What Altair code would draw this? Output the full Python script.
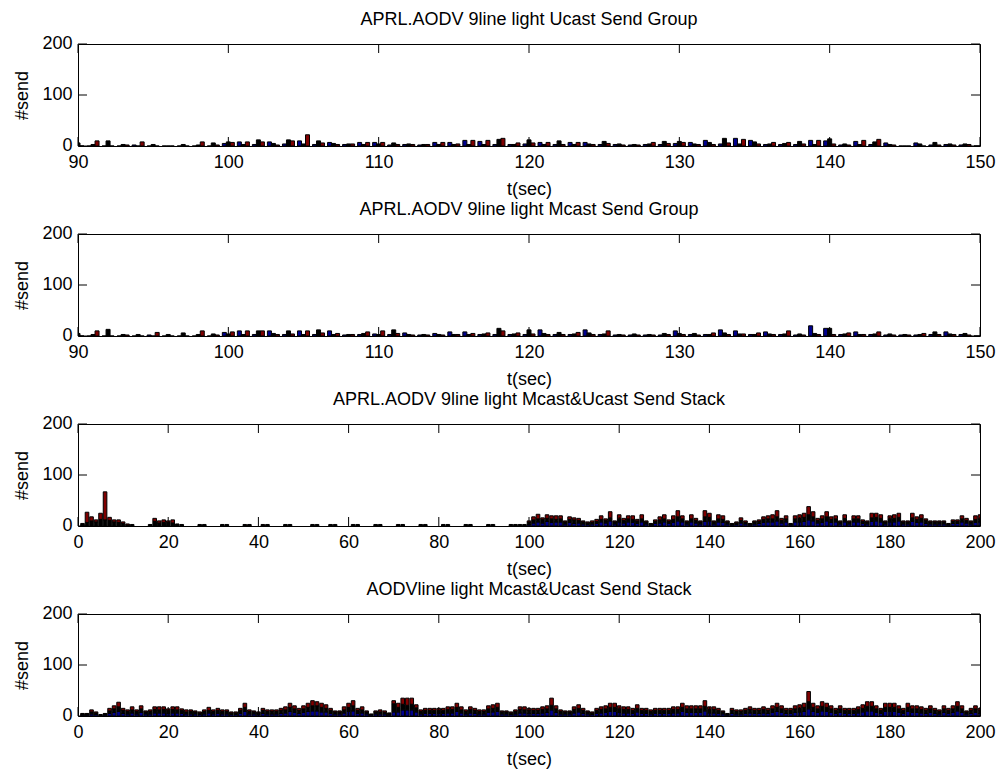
import altair as alt
import pandas as pd

FONT = "Liberation Sans"
BLUE, BLACK, RED = "#00008F", "#000000", "#800000"
SERIES = ["blue", "black", "red"]

# ---------------- titles / ticks ----------------
titles = [
    "APRL.AODV 9line light Ucast Send Group",
    "APRL.AODV 9line light Mcast Send Group",
    "APRL.AODV 9line light Mcast&Ucast Send Stack",
    "AODVline light Mcast&Ucast Send Stack",
]
xticks_group = [90, 100, 110, 120, 130, 140, 150]
xticks_stack = [0, 20, 40, 60, 80, 100, 120, 140, 160, 180, 200]
yticks = [0, 100, 200]

# ---------------- panel 1 (grouped, t = 90..150) ----------------
g_t = list(range(90, 151))
p1_blue = [0, 0, 0, 0, 2, 0, 0, 0, 0, 0,
           5, 8, 3, 8, 4, 10, 3, 7, 3, 7,
           7, 2, 3, 2, 7, 7, 11, 9, 3, 3,
           4, 7, 3, 7, 7, 3, 3, 2, 3, 3,
           5, 7, 11, 4, 15, 11, 3, 3, 3, 11,
           10, 2, 9, 3, 6, 0, 6, 2, 3, 2, 0]
p1_black = [6, 3, 10, 3, 0, 3, 0, 3, 2, 6,
            8, 3, 12, 5, 12, 4, 10, 5, 4, 3,
            4, 6, 4, 3, 3, 3, 3, 3, 13, 3,
            12, 3, 10, 3, 4, 9, 4, 3, 4, 9,
            9, 4, 7, 15, 4, 8, 4, 5, 9, 3,
            14, 4, 3, 8, 3, 0, 4, 7, 4, 4, 0]
p1_red = [0, 10, 0, 2, 8, 0, 0, 0, 8, 2,
          7, 8, 8, 2, 10, 22, 6, 3, 4, 7,
          7, 3, 3, 3, 7, 4, 11, 11, 15, 6,
          6, 7, 3, 7, 3, 5, 2, 2, 7, 5,
          7, 3, 3, 6, 13, 4, 7, 7, 4, 11,
          4, 2, 11, 13, 2, 0, 0, 2, 2, 3, 0]

# ---------------- panel 2 (grouped, t = 90..150) ----------------
p2_blue = [0, 0, 0, 0, 0, 2, 0, 0, 0, 0,
           7, 10, 3, 10, 3, 10, 3, 10, 2, 3,
           4, 3, 6, 2, 5, 8, 8, 3, 3, 3,
           3, 12, 3, 3, 12, 3, 2, 2, 2, 2,
           10, 3, 3, 12, 10, 3, 8, 3, 2, 20,
           15, 3, 8, 3, 2, 2, 2, 3, 8, 3, 0]
p2_black = [5, 3, 13, 3, 3, 0, 3, 6, 3, 4,
            4, 3, 10, 5, 10, 3, 12, 3, 3, 5,
            3, 12, 3, 3, 3, 3, 3, 4, 15, 4,
            12, 5, 7, 4, 6, 4, 3, 4, 3, 5,
            5, 5, 3, 6, 4, 3, 4, 4, 4, 5,
            15, 4, 3, 4, 4, 3, 3, 8, 4, 5, 0]
p2_red = [0, 10, 0, 2, 0, 7, 0, 0, 10, 2,
          8, 10, 10, 3, 4, 10, 6, 5, 3, 8,
          10, 5, 2, 2, 2, 3, 5, 6, 10, 6,
          4, 3, 3, 7, 3, 10, 2, 2, 2, 3,
          3, 2, 6, 3, 4, 6, 3, 10, 2, 3,
          3, 6, 3, 8, 2, 2, 5, 3, 3, 2, 0]

# ---------------- panel 3 (stacked, t = 1..200) ----------------
s_t = list(range(1, 201))
p3_total = [5, 27, 18, 12, 25, 67, 17, 12, 12, 8,
            4, 3, 0, 0, 0, 3, 15, 10, 12, 10,
            12, 4, 3, 0, 0, 0, 3, 3, 0, 0,
            0, 3, 3, 0, 0, 0, 3, 3, 0, 0,
            3, 3, 0, 0, 0, 3, 3, 0, 0, 0,
            0, 3, 3, 0, 0, 3, 3, 0, 0, 0,
            3, 3, 0, 0, 0, 3, 3, 0, 0, 0,
            3, 3, 0, 0, 0, 3, 3, 0, 0, 0,
            3, 3, 0, 0, 0, 3, 3, 0, 0, 0,
            3, 3, 0, 0, 0, 3, 3, 3, 3, 10,
            18, 23, 16, 22, 20, 20, 20, 10, 18, 16,
            15, 10, 8, 10, 13, 20, 14, 28, 10, 22,
            15, 20, 20, 13, 22, 10, 5, 12, 18, 22,
            12, 20, 30, 20, 10, 22, 15, 10, 30, 25,
            10, 22, 20, 10, 5, 8, 16, 10, 5, 10,
            12, 18, 20, 22, 30, 15, 20, 5, 20, 22,
            25, 38, 28, 15, 20, 28, 18, 20, 10, 22,
            10, 20, 20, 12, 10, 25, 25, 22, 10, 20,
            22, 25, 10, 10, 25, 18, 22, 14, 10, 10,
            10, 10, 5, 12, 12, 20, 15, 10, 20, 22]
p3_blue = [0] * 99 + [3,
           6, 8, 6, 9, 7, 8, 8, 4, 7, 5,
           6, 4, 3, 4, 5, 8, 6, 10, 4, 8,
           6, 8, 7, 5, 8, 4, 2, 5, 6, 8,
           5, 7, 10, 8, 4, 8, 6, 4, 9, 10,
           4, 8, 7, 4, 2, 3, 6, 4, 2, 4,
           5, 7, 8, 8, 10, 6, 8, 2, 8, 8,
           9, 12, 10, 6, 7, 10, 7, 8, 4, 8,
           4, 8, 8, 5, 4, 9, 10, 8, 4, 8,
           8, 10, 4, 4, 9, 7, 8, 5, 4, 4,
           4, 4, 2, 5, 5, 8, 6, 4, 7, 8]
p3_red = [0, 20, 8, 4, 12, 55, 6, 4, 5, 3,
          2, 0, 0, 0, 0, 0, 6, 4, 5, 3,
          6, 0, 0, 0, 0, 0, 0, 0, 0, 0,
          0, 0, 0, 0, 0, 0, 2, 0, 0, 0,
          2, 0, 0, 0, 0, 0, 0, 0, 0, 0,
          0, 0, 0, 0, 0, 0, 0, 0, 0, 0,
          0, 0, 0, 0, 0, 0, 0, 0, 0, 0,
          2, 0, 0, 0, 0, 0, 0, 0, 0, 0,
          0, 0, 0, 0, 0, 0, 0, 0, 0, 0,
          0, 0, 0, 0, 0, 0, 0, 0, 0, 3,
          6, 9, 3, 7, 6, 7, 6, 2, 5, 4,
          4, 2, 2, 3, 4, 7, 3, 12, 2, 8,
          4, 6, 7, 3, 8, 2, 1, 3, 6, 8,
          3, 7, 12, 6, 2, 8, 4, 2, 12, 8,
          2, 8, 7, 2, 1, 2, 5, 3, 1, 2,
          3, 5, 6, 8, 12, 4, 6, 1, 6, 7,
          8, 16, 10, 4, 6, 10, 5, 6, 2, 7,
          2, 6, 6, 3, 2, 9, 8, 7, 2, 6,
          7, 8, 2, 2, 9, 5, 7, 3, 2, 2,
          2, 2, 1, 3, 3, 6, 4, 2, 7, 8]

# ---------------- panel 4 (stacked, t = 1..200) ----------------
p4_total = [5, 5, 12, 8, 3, 5, 15, 20, 27, 15,
            12, 18, 12, 20, 10, 12, 18, 18, 18, 14,
            18, 18, 14, 12, 12, 10, 8, 12, 17, 12,
            15, 12, 12, 8, 8, 15, 25, 12, 10, 8,
            15, 12, 12, 12, 15, 18, 25, 20, 15, 20,
            25, 30, 28, 25, 22, 15, 10, 10, 18, 25,
            30, 15, 18, 10, 4, 10, 12, 10, 6, 30,
            25, 35, 35, 35, 22, 12, 15, 15, 15, 15,
            15, 18, 18, 25, 18, 12, 18, 15, 12, 12,
            20, 22, 25, 10, 10, 8, 12, 18, 18, 15,
            15, 15, 18, 20, 35, 20, 12, 10, 10, 18,
            22, 15, 10, 8, 15, 18, 20, 25, 25, 20,
            18, 18, 15, 22, 15, 15, 12, 15, 15, 15,
            15, 18, 18, 25, 20, 20, 20, 20, 30, 18,
            18, 15, 10, 5, 15, 12, 12, 15, 18, 15,
            15, 18, 15, 20, 25, 20, 15, 15, 20, 22,
            25, 48, 25, 20, 28, 25, 20, 15, 20, 15,
            15, 15, 18, 22, 28, 28, 20, 15, 25, 25,
            25, 20, 15, 25, 20, 20, 18, 15, 20, 15,
            12, 20, 15, 20, 28, 20, 10, 15, 20, 15]
p4_blue = [2, 2, 4, 3, 1, 2, 5, 7, 9, 5,
           4, 6, 4, 7, 4, 4, 6, 6, 6, 5,
           6, 6, 5, 4, 4, 4, 3, 4, 6, 4,
           5, 4, 4, 3, 3, 5, 9, 4, 4, 3,
           5, 4, 4, 4, 5, 6, 9, 7, 5, 7,
           9, 10, 10, 8, 8, 5, 4, 4, 6, 9,
           10, 5, 6, 4, 2, 4, 4, 4, 2, 8,
           8, 12, 12, 12, 8, 4, 5, 5, 5, 5,
           5, 6, 6, 9, 6, 4, 6, 5, 4, 4,
           7, 8, 9, 4, 4, 3, 4, 6, 6, 5,
           5, 5, 6, 7, 12, 7, 4, 4, 4, 6,
           8, 5, 4, 3, 5, 6, 7, 9, 9, 7,
           6, 6, 5, 8, 5, 5, 4, 5, 5, 5,
           5, 6, 6, 9, 7, 7, 7, 7, 10, 6,
           6, 5, 4, 2, 5, 4, 4, 5, 6, 5,
           5, 6, 5, 7, 9, 7, 5, 5, 7, 8,
           9, 14, 9, 7, 10, 9, 7, 5, 7, 5,
           5, 5, 6, 8, 10, 10, 7, 5, 9, 9,
           9, 7, 5, 9, 7, 7, 6, 5, 7, 5,
           4, 7, 5, 7, 10, 7, 4, 5, 7, 5]
p4_red = [1, 1, 4, 2, 0, 1, 5, 6, 9, 4,
          3, 6, 3, 6, 2, 3, 5, 6, 5, 3,
          5, 6, 3, 4, 3, 2, 2, 3, 6, 3,
          4, 3, 3, 2, 2, 4, 8, 3, 2, 2,
          4, 3, 3, 3, 4, 6, 8, 6, 4, 6,
          8, 10, 8, 8, 7, 4, 2, 2, 6, 8,
          10, 4, 6, 2, 1, 2, 4, 3, 1, 6,
          8, 12, 14, 12, 6, 3, 4, 4, 4, 4,
          4, 5, 5, 8, 6, 3, 5, 4, 3, 3,
          6, 7, 8, 2, 2, 2, 3, 5, 6, 4,
          4, 4, 5, 6, 14, 6, 3, 2, 2, 5,
          7, 4, 2, 2, 4, 5, 6, 8, 8, 6,
          5, 5, 4, 7, 4, 4, 3, 4, 4, 4,
          4, 5, 5, 8, 6, 6, 6, 6, 11, 5,
          5, 4, 2, 1, 4, 3, 3, 4, 5, 4,
          4, 5, 4, 6, 8, 6, 4, 4, 6, 7,
          8, 20, 8, 6, 9, 8, 6, 4, 6, 4,
          4, 4, 5, 7, 9, 9, 6, 4, 8, 8,
          8, 6, 4, 8, 6, 6, 5, 4, 6, 4,
          3, 6, 4, 6, 9, 6, 2, 4, 6, 4]

# ---------------- layout constants ----------------
W, H = 902, 102
FS = 18
TICK = 9

color_scale = alt.Scale(domain=SERIES, range=[BLUE, BLACK, RED])


def grouped_df(blue, black, red):
    rows = []
    w = 0.8 / 3
    for i, t in enumerate(g_t):
        for k, (name, vals) in enumerate(zip(SERIES, [blue, black, red])):
            x0 = t - 0.4 + k * w
            rows.append({"x0": x0, "x1": x0 + w, "y0": 0, "y1": vals[i], "s": name})
    return pd.DataFrame(rows)


def stacked_df(total, blue, red):
    rows = []
    for i, t in enumerate(s_t):
        b = blue[i]
        r = red[i]
        k = total[i] - b - r
        base = 0
        for name, v in zip(SERIES, [b, k, r]):
            if v > 0:
                rows.append({"x0": t - 0.4, "x1": t + 0.4, "y0": base, "y1": base + v, "s": name})
            base += v
    return pd.DataFrame(rows)


def panel(df, title, xdom, xticks):
    xs = alt.Scale(domain=xdom, nice=False, zero=False)
    ys = alt.Scale(domain=[0, 200], nice=False)
    bars = alt.Chart(df).mark_rect(clip=True, stroke="black", strokeWidth=1).encode(
        x=alt.X("x0:Q", scale=xs,
                axis=alt.Axis(values=xticks, title="t(sec)", ticks=False, domain=False,
                              grid=False, labelPadding=7, titlePadding=9, format="d",
                              labelFlush=False, labelOverlap=False)),
        x2="x1:Q",
        y=alt.Y("y0:Q", scale=ys,
                axis=alt.Axis(values=yticks, title="#send", ticks=False, domain=False,
                              grid=False, labelPadding=6, titlePadding=10, format="d",
                              labelFlush=False, labelOverlap=False, labelOffset=-1)),
        y2="y1:Q",
        fill=alt.Fill("s:N", scale=color_scale, legend=None),
    )
    xt = pd.DataFrame({"v": xticks})
    yt = pd.DataFrame({"v": yticks})
    top_ticks = alt.Chart(xt).mark_rule(color="black", strokeWidth=1).encode(
        x=alt.X("v:Q", scale=xs), y=alt.value(0), y2=alt.value(TICK))
    bot_ticks = alt.Chart(xt).mark_rule(color="black", strokeWidth=1).encode(
        x=alt.X("v:Q", scale=xs), y=alt.value(H - TICK), y2=alt.value(H))
    left_ticks = alt.Chart(yt).mark_rule(color="black", strokeWidth=1).encode(
        y=alt.Y("v:Q", scale=ys), x=alt.value(0), x2=alt.value(TICK))
    right_ticks = alt.Chart(yt).mark_rule(color="black", strokeWidth=1).encode(
        y=alt.Y("v:Q", scale=ys), x=alt.value(W - TICK), x2=alt.value(W))
    return alt.layer(bars, top_ticks, bot_ticks, left_ticks, right_ticks).properties(
        width=W, height=H,
        title=alt.TitleParams(text=title, fontSize=FS, fontWeight="normal", font=FONT,
                              color="black", offset=5, anchor="middle"),
    )


c1 = panel(grouped_df(p1_blue, p1_black, p1_red), titles[0], [90, 150], xticks_group)
c2 = panel(grouped_df(p2_blue, p2_black, p2_red), titles[1], [90, 150], xticks_group)
c3 = panel(stacked_df(p3_total, p3_blue, p3_red), titles[2], [0, 200], xticks_stack)
c4 = panel(stacked_df(p4_total, p4_blue, p4_red), titles[3], [0, 200], xticks_stack)

chart = alt.vconcat(c1, c2, c3, c4, spacing=1).properties(
    padding={"left": 13, "top": 10, "right": 5, "bottom": 2},
    background="white",
).configure_view(
    stroke="black", strokeWidth=1
).configure_axis(
    labelFont=FONT, titleFont=FONT, labelFontSize=FS, titleFontSize=FS,
    labelColor="black", titleColor="black", titleFontWeight="normal",
)

chart.save("out.html", embed_options={"renderer": "svg", "actions": False})
